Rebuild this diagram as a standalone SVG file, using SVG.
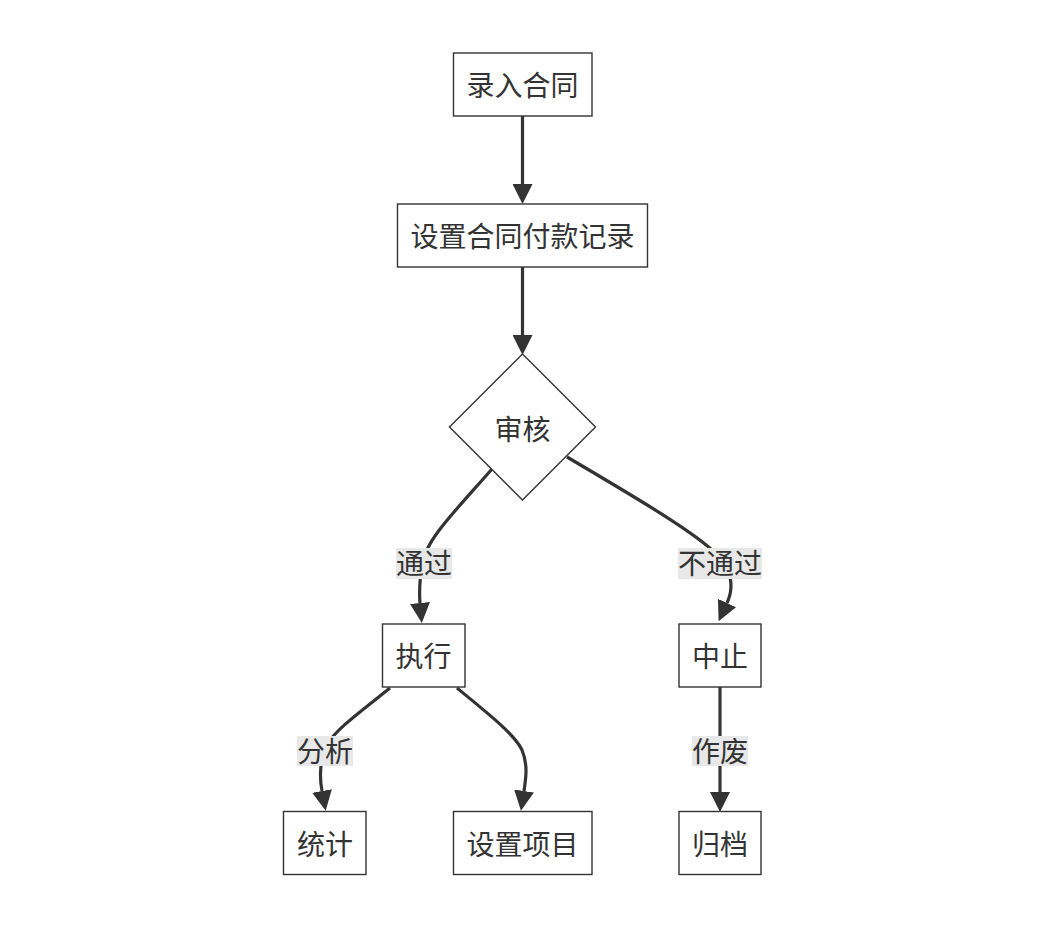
<svg xmlns="http://www.w3.org/2000/svg" width="1046" height="932" viewBox="0 0 1046 932">
<style>
.node rect,.node polygon{fill:#fff;stroke:#333;stroke-width:1.4}
.node text,.lbl text{font-family:"Noto Sans CJK SC","Microsoft YaHei",sans-serif;font-size:28px;fill:#333;text-anchor:middle;dominant-baseline:central}
.edge{fill:none;stroke:#333;stroke-width:3.2}
.lbl rect{fill:#e8e8e8;stroke:none}
</style>
<defs>
<marker id="arr" viewBox="0 0 20 20" refX="0" refY="10" markerWidth="20" markerHeight="20" markerUnits="userSpaceOnUse" orient="auto">
<path d="M0,0 L20,10 L0,20 z" fill="#333"/>
</marker>
</defs>
<rect width="1046" height="932" fill="#fff"/>
<g id="connectors">
<path class="edge" d="M522.5,116 L522.5,184" marker-end="url(#arr)"/>
<path class="edge" d="M522.5,267 L522.5,335" marker-end="url(#arr)"/>
<path class="edge" d="M492,469 C458,508 425,540 422,565 C419,585 419,592 420,603" marker-end="url(#arr)"/>
<path class="edge" d="M567,457 C640,500 690,530 712,550 C735,570 733,590 727,603" marker-end="url(#arr)"/>
<path class="edge" d="M390,688 C360,712 335,730 327,745 C320,760 319,775 322,791" marker-end="url(#arr)"/>
<path class="edge" d="M457,688 C490,715 515,735 522,750 C528,765 526,778 524,791" marker-end="url(#arr)"/>
<path class="edge" d="M720,687 L720,792" marker-end="url(#arr)"/>
</g>
<g id="labels">
<g class="lbl" id="lbl-pass"><rect x="396" y="548" width="56" height="31"/><text x="424" y="562">通过</text></g>
<g class="lbl" id="lbl-fail"><rect x="678" y="548" width="84" height="31"/><text x="720" y="562">不通过</text></g>
<g class="lbl" id="lbl-analyze"><rect x="297" y="736" width="56" height="30"/><text x="325" y="750">分析</text></g>
<g class="lbl" id="lbl-void"><rect x="692" y="736" width="56" height="30"/><text x="720" y="750">作废</text></g>
</g>
<g class="node" id="n-entry"><rect x="453.5" y="53" width="138.5" height="63"/><text x="522.5" y="84">录入合同</text></g>
<g class="node" id="n-setpay"><rect x="397.5" y="204" width="250" height="63"/><text x="522.5" y="235">设置合同付款记录</text></g>
<g class="node" id="n-review"><polygon points="522.5,354 595.5,427 522.5,500 449.5,427"/><text x="522.5" y="428">审核</text></g>
<g class="node" id="n-exec"><rect x="382.5" y="624" width="82.5" height="63"/><text x="423.5" y="655">执行</text></g>
<g class="node" id="n-stop"><rect x="679" y="624" width="82" height="63"/><text x="720" y="655">中止</text></g>
<g class="node" id="n-stat"><rect x="283.5" y="811.5" width="82.5" height="63"/><text x="325" y="843">统计</text></g>
<g class="node" id="n-setproj"><rect x="453.5" y="811.5" width="138.5" height="63"/><text x="522.5" y="843">设置项目</text></g>
<g class="node" id="n-archive"><rect x="679" y="811.5" width="82" height="63"/><text x="720" y="843">归档</text></g>
</svg>
